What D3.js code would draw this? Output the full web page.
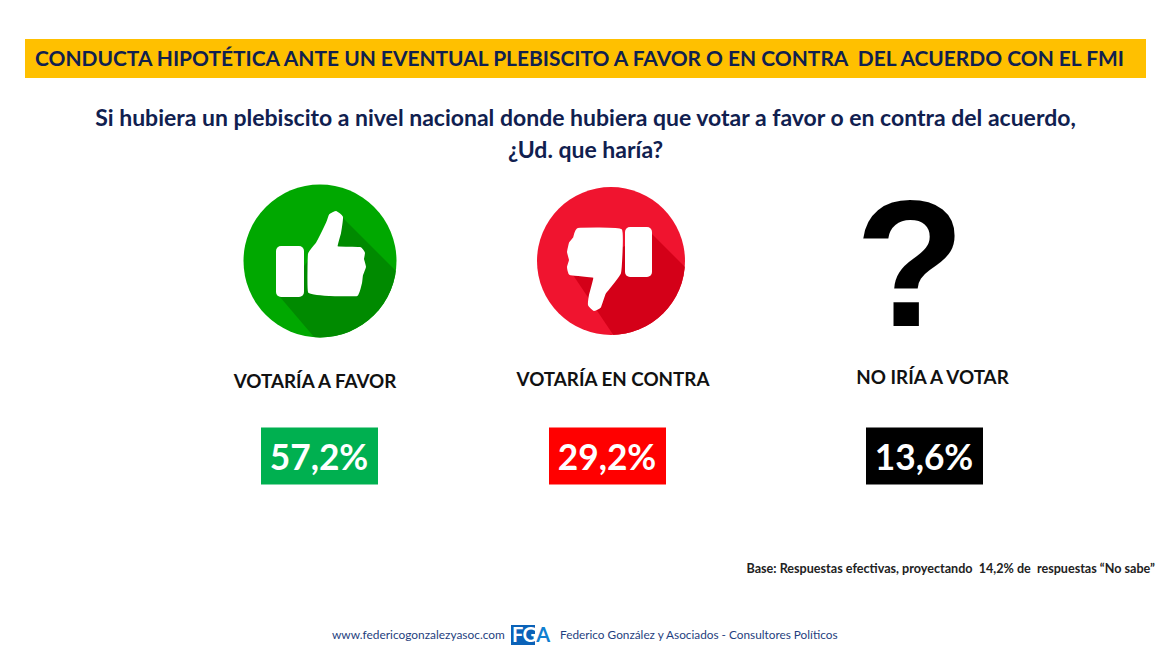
<!DOCTYPE html>
<html>
<head>
<meta charset="utf-8">
<script src="https://cdn.jsdelivr.net/npm/d3@7"></script>
<style>
  html, body { margin: 0; padding: 0; background: #fff; }
  text { font-family: Lato, "Open Sans", sans-serif; }
</style>
</head>
<body>
<div id="chart"></div>
<script>
var titleText = 'CONDUCTA HIPOTÉTICA ANTE UN EVENTUAL PLEBISCITO A FAVOR O EN CONTRA  DEL ACUERDO CON EL FMI'
var questionLines = [
  'Si hubiera un plebiscito a nivel nacional donde hubiera que votar a favor o en contra del acuerdo,',
  '¿Ud. que haría?'
]
var categories = ['VOTARÍA A FAVOR', 'VOTARÍA EN CONTRA', 'NO IRÍA A VOTAR']
var values = [57.2, 29.2, 13.6]
var baseNote = 'Base: Respuestas efectivas, proyectando  14,2% de  respuestas “No sabe”'
var footerLeft = 'www.federicogonzalezyasoc.com'
var footerRight = 'Federico González y Asociados - Consultores Políticos'

var width = 1170
var height = 657
var navy = '#10204f'

var svg = d3.select('#chart').append('svg')
  .attr('width', width)
  .attr('height', height)
  .style('display', 'block')

var boxX = d3.scaleOrdinal().domain(categories).range([319.5, 607.5, 924.5])
var labelX = d3.scaleOrdinal().domain(categories).range([315, 613, 932.5])
var labelY = d3.scaleOrdinal().domain(categories).range([388, 386, 384])
var boxColor = d3.scaleOrdinal().domain(categories).range(['#00b050', '#ff0000', '#000000'])
var fmt = function (v) { return d3.format('.1f')(v).replace('.', ',') + '%' }

// header band
svg.append('rect')
  .attr('x', 25).attr('y', 39)
  .attr('width', 1121).attr('height', 39)
  .attr('fill', '#ffc000')

svg.append('text')
  .attr('x', 35).attr('y', 66)
  .style('white-space', 'pre')
  .attr('font-size', 21.2)
  .attr('font-weight', 700)
  .attr('fill', navy)
  .attr('textLength', 1089)
  .attr('lengthAdjust', 'spacingAndGlyphs')
  .text(titleText)

svg.selectAll('.question')
  .data(questionLines)
  .enter().append('text')
  .attr('class', 'question')
  .attr('x', 585.5)
  .attr('y', function (d, i) { return 126 + i * 32 })
  .attr('text-anchor', 'middle')
  .attr('font-size', 23)
  .attr('font-weight', 700)
  .attr('fill', navy)
  .text(function (d) { return d })

// icons, drawn around the circle centre
var handUp = [[-11, -7], [-3, -18], [7, -38], [10, -46], [16, -49], [22, -44], [20, -28], [17, -14],
  [40, -13], [44, -8], [43, -2], [45, 6], [42, 14], [41, 22], [37, 34], [10, 34], [-11, 31]]
var shadowUp = [[22, -44], [120, 54], [40, 130], [-40, 36]]
var handDown = [[10, -31], [-33, -32], [-37, -23], [-41, -18], [-43, -9], [-41, -1], [-43, 6], [-41, 13],
  [-17, 16], [-21, 34], [-22, 44], [-17, 49], [-11, 46], [-6, 32], [9, 12]]
var shadowDown = [[39, -29], [120, 52], [40, 130], [-38, 14]]
var line = d3.line().curve(d3.curveCardinalClosed.tension(0.7))

function drawThumb (id, cx, cy, r, colors, hand, shadow, cuff) {
  var g = svg.append('g').attr('transform', 'translate(' + cx + ',' + cy + ')')
  g.append('clipPath').attr('id', id)
    .append('circle').attr('r', r)
  g.append('circle').attr('r', r).attr('fill', colors[0])
  g.append('path')
    .attr('d', d3.line().curve(d3.curveLinearClosed)(shadow))
    .attr('fill', colors[1])
    .attr('clip-path', 'url(#' + id + ')')
  g.append('rect')
    .attr('x', cuff[0]).attr('y', cuff[1])
    .attr('width', cuff[2]).attr('height', cuff[3])
    .attr('rx', 5)
    .attr('fill', '#fff')
  g.append('path')
    .attr('d', line(hand))
    .attr('fill', '#fff')
    .attr('stroke', '#fff')
    .attr('stroke-width', 2)
    .attr('stroke-linejoin', 'round')
}

drawThumb('clip-up', 320, 261, 76.5, ['#00a800', '#008a00'], handUp, shadowUp, [-44, -15, 28, 51])
drawThumb('clip-down', 611, 261, 74, ['#f0142f', '#d40018'], handDown, shadowDown, [14, -34, 27, 50])

svg.append('text')
  .attr('x', 910).attr('y', 326)
  .attr('text-anchor', 'middle')
  .attr('font-size', 180)
  .attr('font-weight', 700)
  .attr('fill', '#000')
  .style('font-family', '"Liberation Sans", sans-serif')
  .text('?')

// category labels and value boxes
svg.selectAll('.label')
  .data(categories)
  .enter().append('text')
  .attr('class', 'label')
  .attr('x', function (d) { return labelX(d) })
  .attr('y', function (d) { return labelY(d) })
  .attr('text-anchor', 'middle')
  .attr('font-size', 18.8)
  .attr('font-weight', 700)
  .attr('fill', '#111')
  .text(function (d) { return d })

svg.selectAll('.box')
  .data(categories)
  .enter().append('rect')
  .attr('class', 'box')
  .attr('x', function (d) { return boxX(d) - 58.5 })
  .attr('y', 427.5)
  .attr('width', 117)
  .attr('height', 57)
  .attr('fill', function (d) { return boxColor(d) })

svg.selectAll('.value')
  .data(values)
  .enter().append('text')
  .attr('class', 'value')
  .attr('x', function (d, i) { return boxX(categories[i]) - 0.5 })
  .attr('y', 470)
  .attr('text-anchor', 'middle')
  .attr('font-size', 35.3)
  .attr('font-weight', 700)
  .attr('fill', '#fff')
  .text(fmt)

// base note
svg.append('text')
  .attr('x', 1155).attr('y', 573)
  .attr('text-anchor', 'end')
  .style('white-space', 'pre')
  .attr('font-size', 12.6)
  .attr('font-weight', 700)
  .attr('fill', '#222')
  .text(baseNote)

// footer
svg.append('text')
  .attr('x', 332).attr('y', 639)
  .attr('font-size', 11.9)
  .attr('fill', '#1f3f80')
  .text(footerLeft)

svg.append('rect')
  .attr('x', 511).attr('y', 625)
  .attr('width', 24).attr('height', 20)
  .attr('fill', '#0a62b8')

var logo = svg.append('text')
  .attr('x', 512).attr('y', 642)
  .attr('font-size', 20)
  .attr('font-weight', 700)
  .attr('letter-spacing', -0.6)
logo.append('tspan').attr('fill', '#fff').text('FG')
logo.append('tspan').attr('fill', '#1080d0').text('A')

svg.append('text')
  .attr('x', 560).attr('y', 639)
  .attr('font-size', 11.8)
  .attr('fill', '#1f3f80')
  .text(footerRight)
</script>
</body>
</html>
